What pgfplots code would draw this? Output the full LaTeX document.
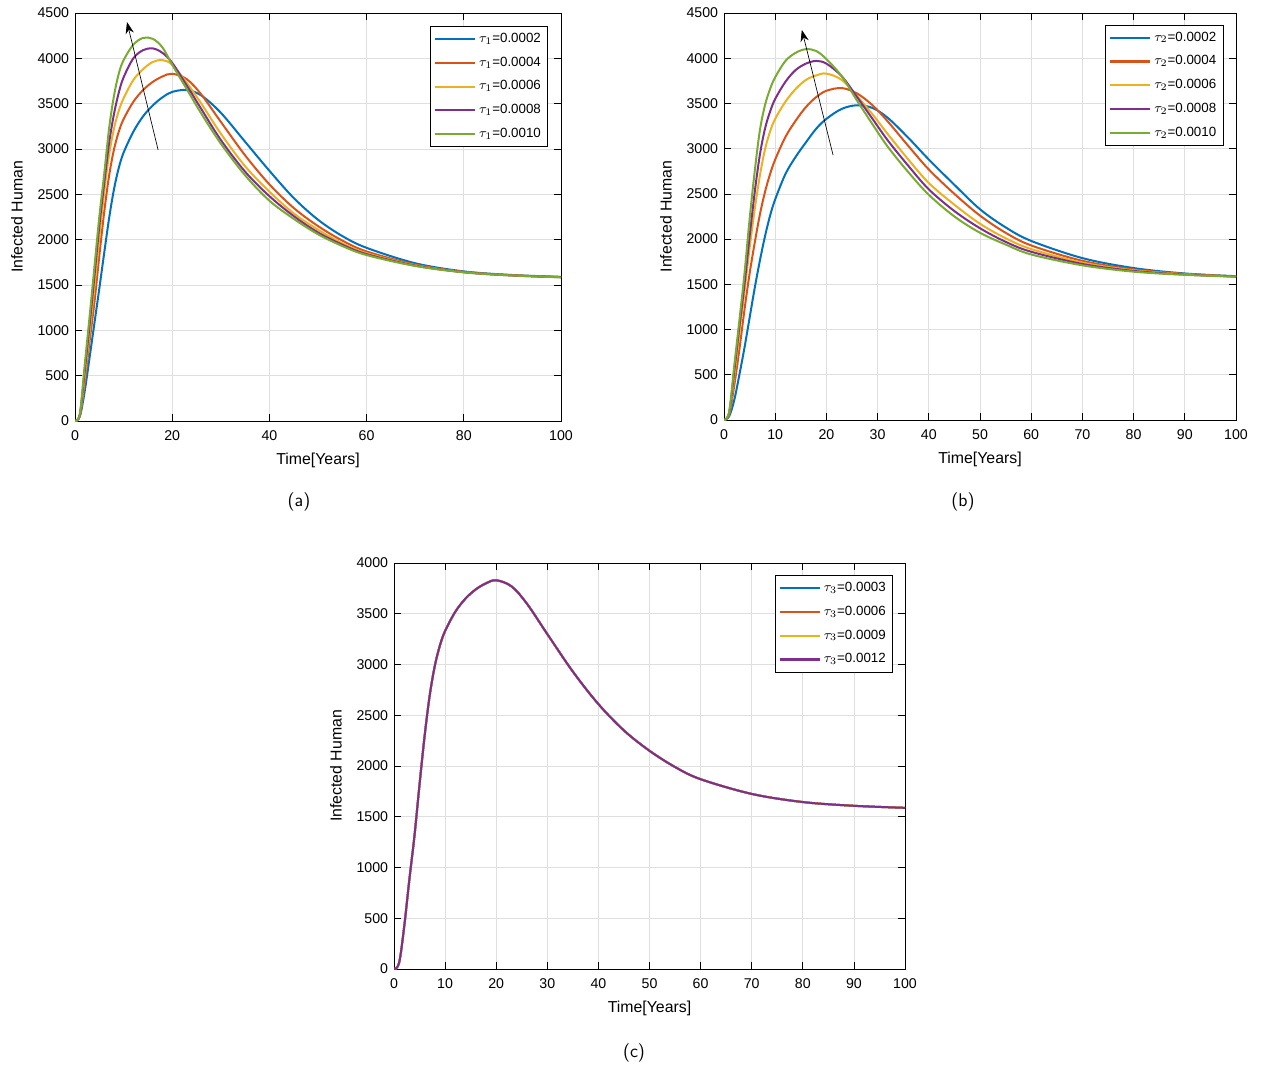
\documentclass[border=0pt]{standalone}
\usepackage{pgfplots}
\pgfplotsset{compat=1.18}
\usepackage{fontspec}
\setmainfont{Liberation Sans}
\usetikzlibrary{arrows.meta}
\definecolor{mb}{RGB}{0,114,189}
\definecolor{mo}{RGB}{217,83,25}
\definecolor{my}{RGB}{237,177,32}
\definecolor{mp}{RGB}{126,47,142}
\definecolor{mg}{RGB}{119,172,48}
\pgfplotsset{mystyle/.style={
  scale only axis, xmin=0,xmax=100, ymin=0,
  /pgf/number format/assume math mode=true,
  font=\fontsize{8.5}{10}\selectfont,
  tick label style={font=\fontsize{8.5}{10}\selectfont},
  xticklabel style={yshift=-2pt},
  label style={font=\fontsize{9.5}{11}\selectfont},
  grid=major, grid style={gray!25},
  tick align=inside, tick style={black,thin},
  xtick pos=both, ytick pos=both,
  scaled ticks=false, yticklabel style={/pgf/number format/1000 sep={}},
  xlabel={Time[Years]}, ylabel={Infected Human},
  xlabel style={yshift=-1pt}, ylabel style={yshift=2pt},
  legend cell align=left,
  legend style={font=\fontsize{8}{10}\selectfont, anchor=north east, draw=black, inner sep=2pt, row sep=3.2pt},
  legend image code/.code={\draw[##1, line width=1.25pt] (0pt,0pt) -- (24pt,0pt);},
  every axis plot/.append style={line width=1.2pt, smooth, tension=0.55, no marks},
}}
\pgfplotstableread{
t a1 a2 a3 a4 a5
0 0 0 0 0 0
1 50 60 70 75 80
2 330 420 490 550 620
3 700 880 980 1060 1150
4 1080 1310 1480 1600 1700
5 1460 1820 2020 2150 2250
6 1850 2300 2520 2620 2720
7 2230 2700 2930 3060 3220
8 2550 2990 3220 3380 3580
9 2790 3190 3420 3620 3830
10 2960 3330 3560 3790 3980
12 3190 3520 3760 4000 4150
14 3360 3650 3880 4090 4225
16 3480 3740 3960 4110 4215
18 3570 3800 3980 4060 4120
20 3630 3830 3930 3950 3930
23 3650 3770 3730 3700 3660
26 3590 3600 3500 3440 3390
30 3400 3300 3170 3100 3060
35 3080 2930 2810 2750 2710
40 2760 2610 2530 2480 2430
45 2460 2350 2290 2260 2230
50 2220 2150 2110 2080 2060
55 2040 1990 1960 1945 1930
60 1910 1870 1850 1840 1830
70 1740 1725 1718 1714 1710
80 1650 1645 1642 1641 1640
90 1610 1608 1606 1605 1605
100 1590 1588 1587 1586 1585
}\tabA
\pgfplotstableread{
t b1 b2 b3 b4 b5
0 0 0 0 0 0
1 40 60 70 80 90
2 220 380 480 540 600
3 500 780 960 1030 1100
4 800 1220 1420 1500 1620
5 1130 1620 1900 2030 2220
6 1460 1960 2330 2520 2750
7 1760 2270 2700 2930 3200
8 2030 2520 2990 3220 3480
9 2260 2720 3190 3410 3660
10 2440 2880 3330 3550 3790
12 2720 3130 3520 3740 3970
14 2910 3310 3660 3870 4060
16 3070 3460 3760 3940 4100
18 3220 3570 3810 3970 4080
20 3330 3640 3830 3940 3990
23 3440 3670 3760 3800 3800
26 3480 3610 3580 3570 3530
29 3450 3480 3380 3330 3270
32 3340 3300 3160 3090 3020
36 3120 3030 2880 2810 2740
40 2880 2770 2620 2550 2490
45 2600 2500 2380 2310 2250
50 2330 2260 2170 2120 2070
55 2130 2070 2010 1970 1940
60 1980 1930 1890 1860 1830
70 1790 1760 1740 1725 1710
80 1680 1665 1655 1648 1640
90 1620 1615 1612 1608 1605
100 1590 1588 1587 1586 1585
}\tabB
\begin{document}
\begin{tikzpicture}
\path (0pt,0pt) rectangle (759pt,640.8pt);
\begin{axis}[mystyle, at={(45pt,388.2pt)}, anchor=south west, width=291.6pt, height=244.8pt,
  ymax=4500, xtick={0,20,...,100}, ytick={0,500,...,4500},
  legend style={at={(0.973,0.968)}}]
\addplot[mb] table[x=t,y=a1]{\tabA}; \addlegendentry{$\tau_1$=0.0002}
\addplot[mo] table[x=t,y=a2]{\tabA}; \addlegendentry{$\tau_1$=0.0004}
\addplot[my] table[x=t,y=a3]{\tabA}; \addlegendentry{$\tau_1$=0.0006}
\addplot[mp] table[x=t,y=a4]{\tabA}; \addlegendentry{$\tau_1$=0.0008}
\addplot[mg] table[x=t,y=a5]{\tabA}; \addlegendentry{$\tau_1$=0.0010}
\draw[-{Stealth[length=7pt,width=5pt]},thin] (axis cs:17.1,2990) -- (axis cs:10.7,4400);
\end{axis}
\begin{axis}[mystyle, at={(434.4pt,388.8pt)}, anchor=south west, width=307.2pt, height=244.2pt,
  ymax=4500, xtick={0,10,...,100}, ytick={0,500,...,4500},
  legend style={at={(0.975,0.971)}}]
\addplot[mb] table[x=t,y=b1]{\tabB}; \addlegendentry{$\tau_2$=0.0002}
\addplot[mo] table[x=t,y=b2]{\tabB}; \addlegendentry{$\tau_2$=0.0004}
\addplot[my] table[x=t,y=b3]{\tabB}; \addlegendentry{$\tau_2$=0.0006}
\addplot[mp] table[x=t,y=b4]{\tabB}; \addlegendentry{$\tau_2$=0.0008}
\addplot[mg] table[x=t,y=b5]{\tabB}; \addlegendentry{$\tau_2$=0.0010}
\draw[-{Stealth[length=7pt,width=5pt]},thin] (axis cs:21.3,2930) -- (axis cs:15.2,4313);
\end{axis}
\begin{axis}[mystyle, at={(236.4pt,59.4pt)}, anchor=south west, width=306.6pt, height=243.6pt,
  ymax=4000, xtick={0,10,...,100}, ytick={0,500,...,4000},
  legend style={at={(0.976,0.970)}}]
\addplot[mb] table[x=t,y=a2]{\tabA}; \addlegendentry{$\tau_3$=0.0003}
\addplot[mo] table[x=t,y=a2]{\tabA}; \addlegendentry{$\tau_3$=0.0006}
\addplot[my] table[x=t,y=a2]{\tabA}; \addlegendentry{$\tau_3$=0.0009}
\addplot[mp] table[x=t,y=a2]{\tabA}; \addlegendentry{$\tau_3$=0.0012}
\end{axis}
\node[font=\sffamily\fontsize{11}{13}\selectfont] at (179.4pt,339.6pt) {(a)};
\node[font=\sffamily\fontsize{11}{13}\selectfont] at (577.8pt,339.6pt) {(b)};
\node[font=\sffamily\fontsize{11}{13}\selectfont] at (380.4pt,9pt) {(c)};
\end{tikzpicture}
\end{document}
